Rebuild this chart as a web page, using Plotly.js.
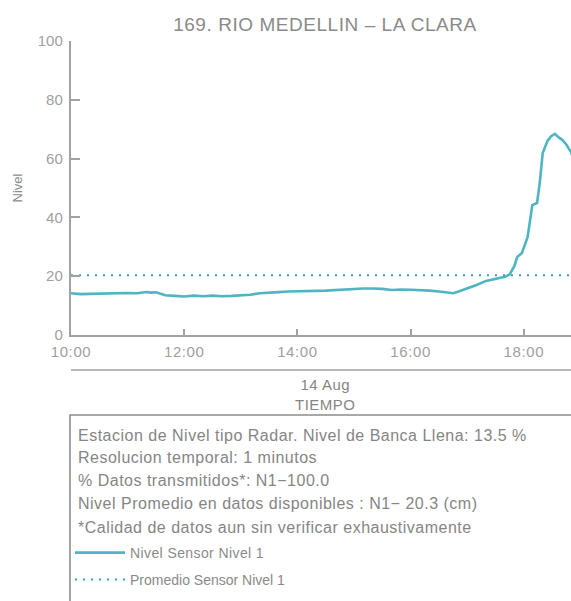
<!DOCTYPE html>
<html>
<head>
<meta charset="utf-8">
<script src="https://cdn.plot.ly/plotly-3.0.1.min.js"></script>
<style>
  html, body { margin: 0; padding: 0; background: #fff; overflow: hidden; }
  #chart { width: 571px; height: 601px; }
  .gtitle { letter-spacing: 0.55px; }
  .annotation-text { letter-spacing: 0.5px; }
  .legendtext { letter-spacing: 0.4px; }
  .xtick text { letter-spacing: 0.6px; }
</style>
</head>
<body>
<div id="chart"></div>
<script>
// ---- data ----
const dateStr = "2023-08-14";
const times = ["10:00","10:10","10:20","10:30","10:40","10:50","11:00","11:10","11:20","11:25","11:30","11:35","11:40","11:50",
  "12:00","12:10","12:20","12:30","12:40","12:50","13:00","13:10","13:20","13:30","13:40","13:50",
  "14:00","14:10","14:20","14:30","14:40","14:50","15:00","15:10","15:20","15:30","15:40","15:50",
  "16:00","16:10","16:20","16:30","16:40","16:45","16:50","17:00","17:10","17:20","17:30","17:40","17:45",
  "17:50","17:53","17:58","18:04","18:09","18:14","18:17","18:20","18:25","18:29","18:33","18:37","18:41","18:45","18:50","18:53"];
const nivel = [14.2,13.9,14.0,14.1,14.0,14.2,14.3,14.2,14.6,14.4,14.5,14.0,13.5,13.3,
  13.1,13.4,13.2,13.4,13.2,13.3,13.4,13.7,14.2,14.5,14.6,14.8,
  14.8,14.9,15.0,15.1,15.3,15.3,15.7,15.8,15.8,15.7,15.3,15.5,
  15.4,15.3,15.1,14.8,14.4,14.2,14.7,15.8,17.0,18.4,19.2,19.8,20.6,
  23.5,26.5,27.9,33.3,44.2,44.9,52.0,61.9,66.0,67.6,68.4,67.2,66.3,64.8,62.2,59.5];
const promedio = 20.3;
const xStart = "10:00", xEnd = "18:50";
const yTicks = [0, 20, 40, 60, 80, 100];
const titleText = "169. RIO MEDELLIN \u2013 LA CLARA";
const infoLines = [
  "Estacion de Nivel tipo Radar. Nivel de Banca Llena: 13.5 %",
  "Resolucion temporal: 1 minutos",
  "% Datos transmitidos*: N1\u2212100.0",
  "Nivel Promedio en datos disponibles : N1\u2212 20.3 (cm)",
  "*Calidad de datos aun sin verificar exhaustivamente"
];
const seriesNames = ["Nivel Sensor Nivel 1", "Promedio Sensor Nivel 1"];

// ---- layout helpers (pixel -> paper) ----
const W = 571, H = 601;
const M = {l: 71, r: 0, t: 41, b: 266};
const plotW = W - M.l - M.r, plotH = H - M.t - M.b;
const px2x = p => (p - M.l) / plotW;
const px2y = p => (H - M.b - p) / plotH;

const xs = times.map(t => dateStr + " " + t);
const font = "Liberation Sans, Arial, Helvetica, sans-serif";
const lineColor = "#4db6c2";
const dotColor = "#3b9fb0";
const axisColor = "#a2a2a2";

const traces = [
  {x: xs, y: nivel, type: "scatter", mode: "lines", name: seriesNames[0],
   line: {color: lineColor, width: 2.6}, legend: "legend", hoverinfo: "x+y"},
  {x: [dateStr + " " + xStart, xs[xs.length - 1]], y: [promedio, promedio], type: "scatter", mode: "lines",
   name: seriesNames[1], line: {color: dotColor, width: 2, dash: "2px,6px"}, legend: "legend2"}
];

const annotations = [];
const infoY = [435, 457, 480, 503, 527];
infoLines.forEach((t, i) => annotations.push({
  text: t, xref: "paper", yref: "paper", x: px2x(76), y: px2y(infoY[i]),
  xanchor: "left", yanchor: "middle", showarrow: false, align: "left",
  font: {family: font, size: 16, color: "#858585"}
}));
annotations.push({
  text: "14 Aug<br>TIEMPO", xref: "paper", yref: "paper", x: px2x(325), y: px2y(394),
  xanchor: "center", yanchor: "middle", showarrow: false,
  font: {family: font, size: 15, color: "#858585"}
});

const shapes = [
  // date-level axis line
  {type: "line", xref: "paper", yref: "paper", x0: 0, x1: 1.02, y0: px2y(370), y1: px2y(370),
   line: {color: "#b8b8b8", width: 2}},
  // info box
  {type: "rect", xref: "paper", yref: "paper", x0: px2x(70), x1: 1.05, y0: px2y(415), y1: px2y(640),
   line: {color: "#8c8c8c", width: 1.6}, fillcolor: "rgba(0,0,0,0)"}
];

const layout = {
  width: W, height: H,
  margin: M,
  paper_bgcolor: "#fff", plot_bgcolor: "#fff",
  font: {family: font, color: "#999"},
  title: {text: titleText, x: (325 / W), xanchor: "center", y: 1 - 24 / H, yanchor: "middle",
          font: {family: font, size: 19, color: "#8a8a8a"}},
  xaxis: {
    type: "date", range: [dateStr + " " + xStart, dateStr + " " + xEnd], anchor: "y",
    tickformat: "%H:%M", dtick: 7200000, tick0: dateStr + " 10:00",
    showgrid: false, zeroline: false, showline: true, linecolor: axisColor, linewidth: 2.4,
    ticks: "inside", ticklen: 6, tickwidth: 1.6, tickcolor: axisColor,
    tickfont: {family: font, size: 15, color: "#a0a0a0"}, ticklabelstandoff: 2
  },
  yaxis: {
    range: [0, 100], tickvals: yTicks, ticktext: yTicks.map(String), anchor: "x",
    showgrid: false, zeroline: false, showline: true, linecolor: axisColor, linewidth: 2.4,
    ticks: "inside", ticklen: 9, tickwidth: 1.6, tickcolor: axisColor,
    tickfont: {family: font, size: 15, color: "#a0a0a0"}, ticklabelstandoff: 3,
    title: {text: "Nivel", standoff: 12, font: {family: font, size: 13, color: "#8a8a8a"}}
  },
  showlegend: true,
  legend: {x: px2x(70), y: px2y(553), xanchor: "left", yanchor: "middle", bgcolor: "rgba(0,0,0,0)",
           itemwidth: 50, font: {family: font, size: 14, color: "#8a8a8a"}},
  legend2: {x: px2x(70), y: px2y(580), xanchor: "left", yanchor: "middle", bgcolor: "rgba(0,0,0,0)",
           itemwidth: 50, font: {family: font, size: 14, color: "#8a8a8a"}},
  annotations: annotations,
  shapes: shapes
};

Plotly.newPlot("chart", traces, layout, {displayModeBar: false, responsive: false});
</script>
</body>
</html>
